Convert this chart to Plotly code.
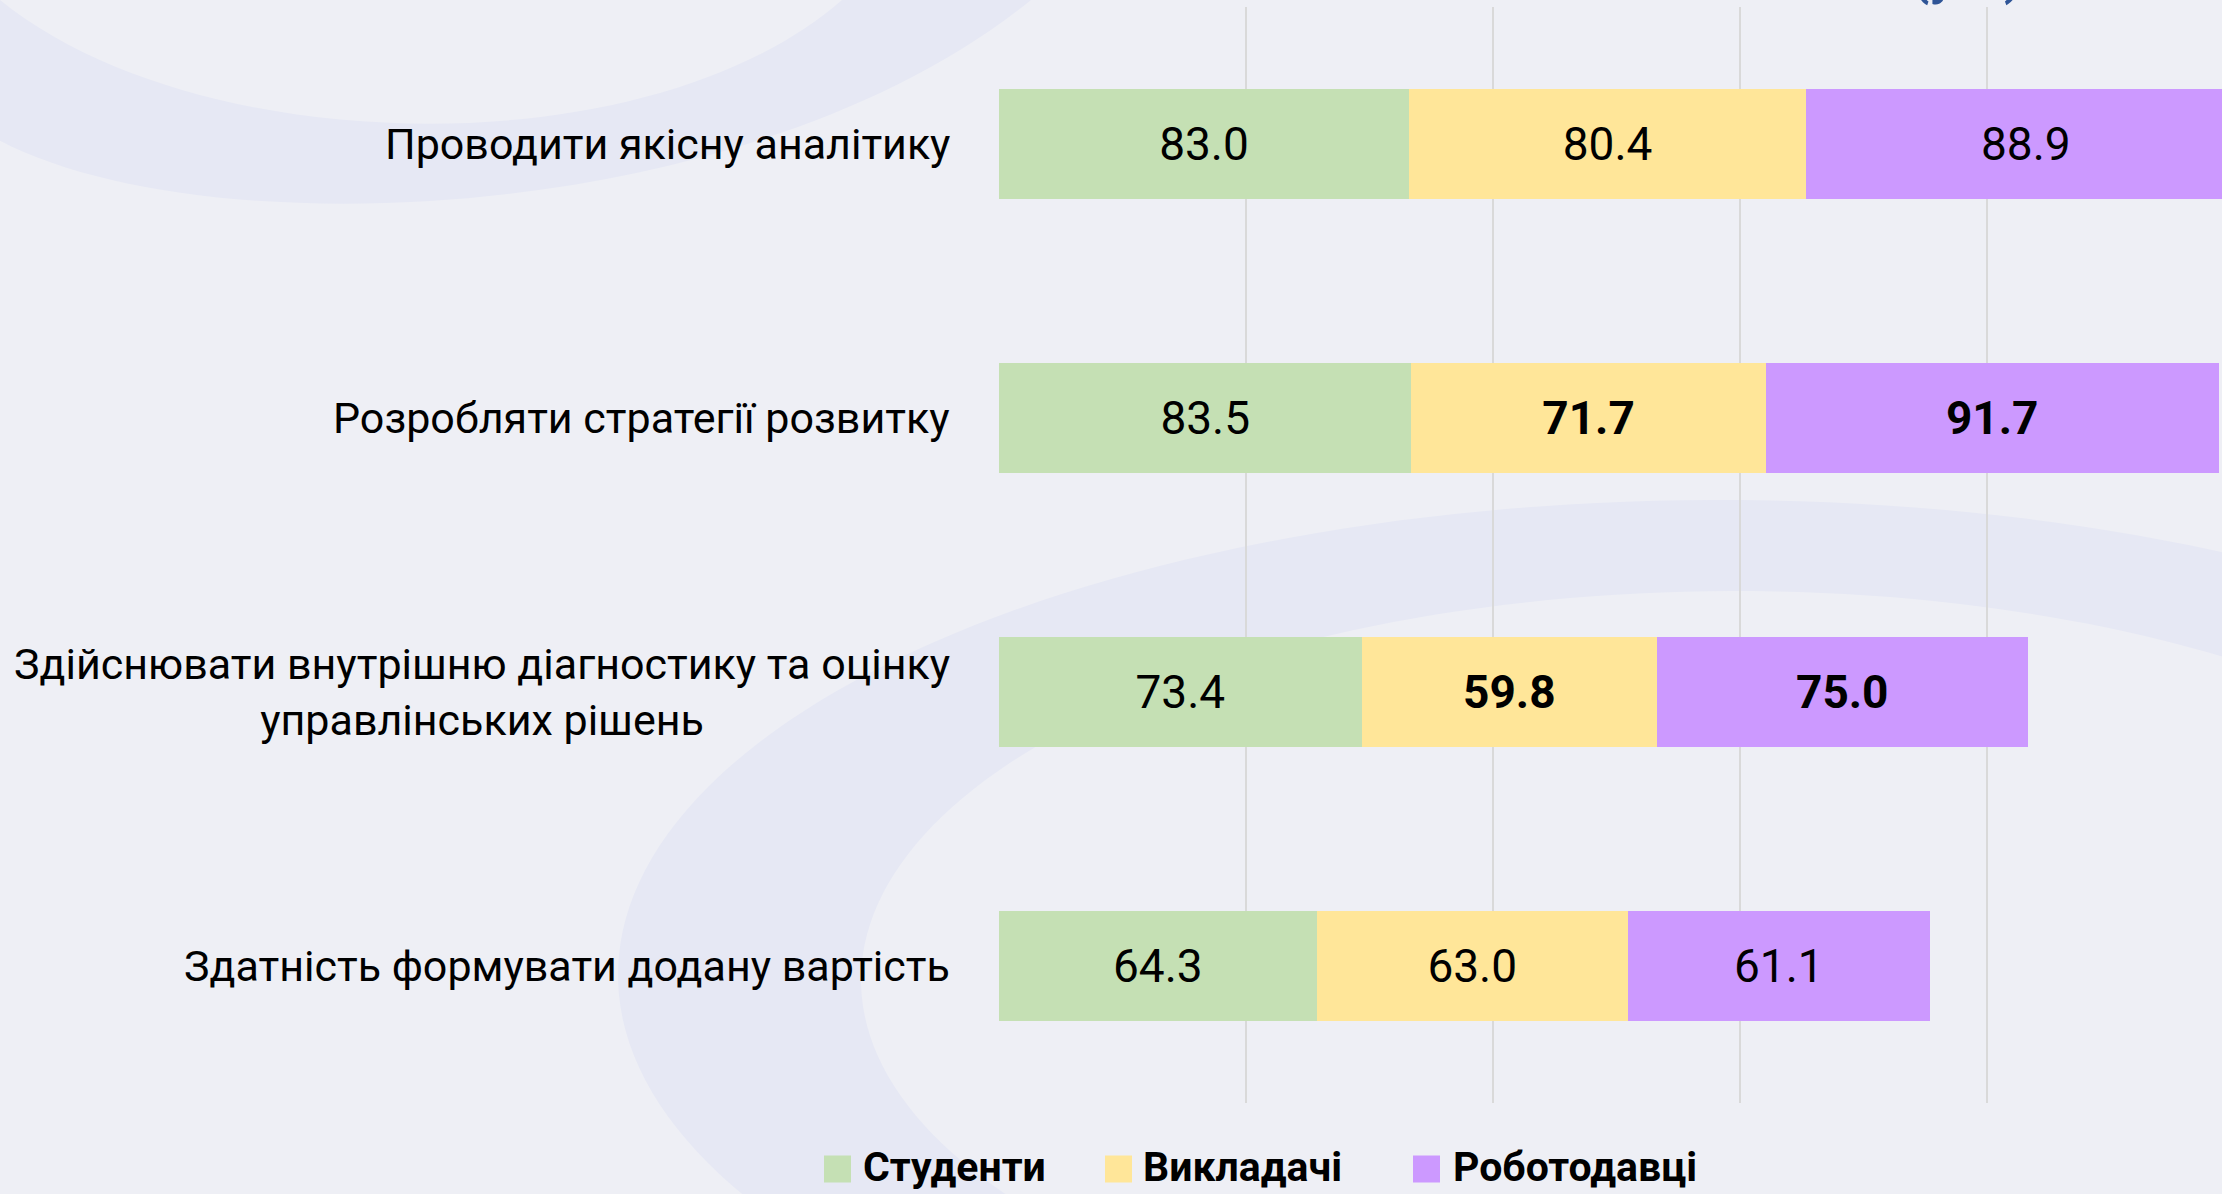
import numpy as np
import plotly.graph_objects as go

# ---------------- data ----------------
categories = [
    "Проводити якісну аналітику",
    "Розробляти стратегії розвитку",
    "Здійснювати внутрішню діагностику та оцінку<br>управлінських рішень",
    "Здатність формувати додану вартість",
]
series_names = ["Студенти", "Викладачі", "Роботодавці"]
students = [83.0, 83.5, 73.4, 64.3]
teachers = [80.4, 71.7, 59.8, 63.0]
employers = [88.9, 91.7, 75.0, 61.1]
unit_note = "(у %)"

# ---------------- style ----------------
colors = ["#C5E0B4", "#FFE699", "#CC99FF"]
bold_flags = [
    [False, False, False, False],
    [False, True, True, False],
    [False, True, True, False],
]
BG = "#EEEFF5"
BAND = "#E6E8F4"
FONT = "Roboto, Arial, sans-serif"

W_FIG, H_FIG = 2222, 1194
PL, PR, PT, PB = 999, 2222, 7, 1103   # plot area in pixels
PW, PH = PR - PL, PB - PT


def px(X):
    return (X - PL) / PW


def py(Y):
    return (PB - Y) / PH


def pt(X, Y):
    return f"{px(X):.5f},{py(Y):.5f}"


fig = go.Figure()

series_values = [students, teachers, employers]
for name, vals, col, bflags in zip(series_names, series_values, colors, bold_flags):
    texts = [f"<b>{v:.1f}</b>" if b else f"{v:.1f}" for v, b in zip(vals, bflags)]
    fig.add_trace(go.Bar(
        y=categories, x=vals, name=name, orientation="h",
        marker=dict(color=col, line=dict(width=0)),
        text=texts, texttemplate="%{text}",
        textposition="inside", insidetextanchor="middle", textangle=0,
        insidetextfont=dict(family=FONT, size=46, color="black"),
        showlegend=False, hoverinfo="skip",
    ))

# ---------------- decorative background rings ----------------
shapes = []
# top-left ring (bezier)
tl_path = (
    f"M {pt(-5,138)} C {pt(200,250)} {pt(750,228)} {pt(1031,0)} "
    f"L {pt(1060,-30)} L {pt(830,-30)} L {pt(842,0)} "
    f"C {pt(650,168)} {pt(200,162)} {pt(0,0)} L {pt(-5,-30)} Z"
)
shapes.append(dict(type="path", path=tl_path, xref="paper", yref="paper",
                   fillcolor=BAND, line=dict(width=0), layer="below"))

# large ring lower-middle (ellipse polylines)
th = np.linspace(0, 2 * np.pi, 240)
ox, oy = 1720 + 1102 * np.cos(th), 975 + 475 * np.sin(th)
ix, iy = 1736 + 875 * np.cos(th[::-1]), 980 + 389 * np.sin(th[::-1])
p_out = "M " + " L ".join(pt(a, b) for a, b in zip(ox, oy)) + " Z"
p_in = " M " + " L ".join(pt(a, b) for a, b in zip(ix, iy)) + " Z"
shapes.append(dict(type="path", path=p_out + p_in, xref="paper", yref="paper",
                   fillcolor=BAND, line=dict(width=0), layer="below"))

# ---------------- manual legend ----------------
annotations = []
legend_sq_x = [824, 1105, 1413]
legend_txt_x = [861, 1141, 1451]
legend_y = 1169
for name, col, sx, tx in zip(series_names, colors, legend_sq_x, legend_txt_x):
    shapes.append(dict(type="rect", xref="paper", yref="paper",
                       x0=px(sx), x1=px(sx + 27), y0=py(legend_y + 13.5), y1=py(legend_y - 13.5),
                       fillcolor=col, line=dict(width=0)))
    annotations.append(dict(text=f"<b>{name}</b>", xref="paper", yref="paper",
                            x=px(tx), y=py(1193), xanchor="left", yanchor="bottom",
                            showarrow=False, font=dict(family=FONT, size=41, color="black")))

# category labels (centered multi-line, right-anchored)
for c in categories:
    annotations.append(dict(text=c, xref="paper", yref="y", x=0, y=c, xshift=-47,
                            xanchor="right", yanchor="middle", align="center",
                            showarrow=False,
                            font=dict(family=FONT, size=43, color="black")))

# clipped unit note at the very top (only its lower edge shows, as in the reference)
annotations.append(dict(text=f"<b>{unit_note}</b>", xref="paper", yref="paper",
                        x=px(1967), y=py(-23), xanchor="center", yanchor="middle",
                        showarrow=False, font=dict(family=FONT, size=50, color="#2F5597")))

fig.update_layout(
    width=W_FIG, height=H_FIG,
    margin=dict(l=PL, r=W_FIG - PR, t=PT, b=H_FIG - PB, pad=0),
    paper_bgcolor=BG, plot_bgcolor="rgba(0,0,0,0)",
    barmode="stack", bargap=0.6,
    showlegend=False,
    shapes=shapes, annotations=annotations,
    font=dict(family=FONT),
)
fig.update_xaxes(range=[0, PW / 4.94], dtick=50, tick0=0, showgrid=True,
                 gridcolor="#D9D9D9", gridwidth=1.5, zeroline=False,
                 showline=False, showticklabels=False, fixedrange=True)
fig.update_yaxes(autorange="reversed", showticklabels=False, showgrid=False,
                 zeroline=False, showline=False, fixedrange=True)

fig.write_html(
    "out.html",
    config={"displayModeBar": False},
    post_script="document.body.style.margin='0';document.body.style.overflow='hidden';"
                "document.body.style.background='" + BG + "';",
)
